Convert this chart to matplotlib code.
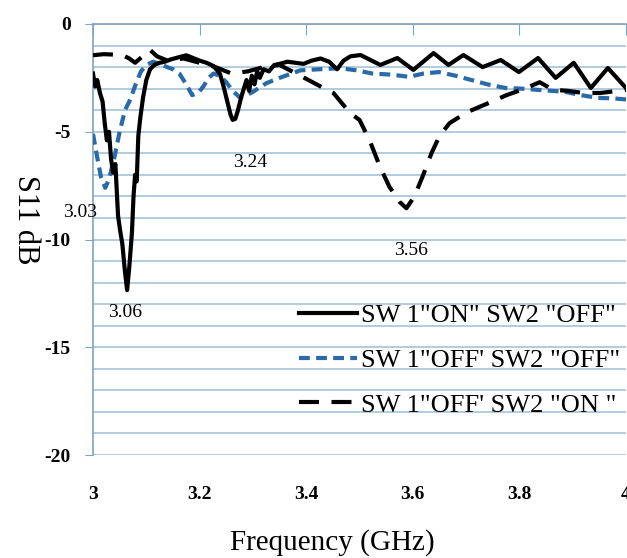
import matplotlib.pyplot as plt
import numpy as np

plt.rcParams['font.family'] = ['Liberation Serif', 'DejaVu Serif']
plt.rcParams['axes.unicode_minus'] = False

# SW1 "ON" SW2 "OFF" (trait plein)
f_on_off = [3.000, 3.004, 3.008, 3.013, 3.018, 3.022, 3.026, 3.030, 3.034, 3.038,
            3.042, 3.047, 3.051, 3.055, 3.060, 3.064, 3.068, 3.073, 3.076, 3.079,
            3.082, 3.085, 3.089, 3.094, 3.100, 3.107, 3.115, 3.125, 3.135, 3.145,
            3.160, 3.175, 3.190, 3.200, 3.213, 3.226, 3.238, 3.245, 3.252, 3.258,
            3.262, 3.267, 3.272, 3.278, 3.283, 3.288, 3.293, 3.298, 3.303, 3.308,
            3.313, 3.320, 3.330, 3.340, 3.350, 3.365, 3.380, 3.395, 3.410, 3.427,
            3.443, 3.458, 3.470, 3.483, 3.502, 3.539, 3.571, 3.601, 3.639, 3.667,
            3.695, 3.731, 3.765, 3.799, 3.835, 3.868, 3.902, 3.934, 3.966, 4.000]
s_on_off = [-2.3, -2.9, -2.6, -3.2, -3.6, -4.6, -5.4, -5.0, -6.3, -6.9,
            -6.5, -8.9, -9.6, -10.2, -11.5, -12.35, -11.3, -9.7, -8.0, -7.0,
            -7.3, -5.2, -4.3, -3.4, -2.6, -2.1, -1.9, -1.8, -1.75, -1.65,
            -1.55, -1.45, -1.6, -1.7, -1.8, -1.95, -2.3, -2.9, -3.6, -4.2,
            -4.45, -4.4, -4.0, -3.4, -3.0, -2.6, -3.1, -2.4, -2.8, -2.2,
            -2.5, -2.1, -2.2, -1.9, -1.85, -1.75, -1.8, -1.85, -1.7, -1.6,
            -1.75, -2.1, -1.7, -1.5, -1.44, -1.9, -1.58, -2.13, -1.35, -1.9,
            -1.44, -2.0, -1.67, -2.23, -1.58, -2.5, -1.8, -2.97, -2.04, -2.97]

# SW1 "OFF" SW2 "OFF" (tirets bleus)
f_off_off = [3.000, 3.008, 3.015, 3.023, 3.030, 3.040, 3.050, 3.060, 3.070, 3.080,
             3.090, 3.100, 3.113, 3.125, 3.137, 3.150, 3.162, 3.175, 3.186, 3.197,
             3.207, 3.217, 3.226, 3.238, 3.250, 3.262, 3.275, 3.288, 3.300, 3.312,
             3.325, 3.350, 3.389, 3.425, 3.462, 3.495, 3.524, 3.560, 3.593, 3.620,
             3.649, 3.680, 3.710, 3.740, 3.774, 3.805, 3.836, 3.860, 3.886, 3.915,
             3.948, 3.975, 4.000]
s_off_off = [-5.1, -6.2, -7.1, -7.6, -7.2, -6.2, -5.0, -4.0, -3.5, -2.8,
             -2.2, -1.9, -1.75, -1.85, -1.98, -2.1, -2.3, -2.8, -3.3, -3.2,
             -2.9, -2.5, -2.3, -2.4, -2.7, -3.1, -3.4, -3.3, -3.15, -2.95,
             -2.75, -2.5, -2.15, -2.1, -2.05, -2.15, -2.3, -2.35, -2.45, -2.3,
             -2.23, -2.4, -2.6, -2.8, -2.97, -3.0, -3.06, -3.1, -3.15, -3.3,
             -3.43, -3.45, -3.5]

# SW1 "OFF" SW2 "ON" (tirets longs noirs)
f_off_on = [3.000, 3.020, 3.040, 3.056, 3.068, 3.079, 3.093, 3.107, 3.120, 3.140,
            3.170, 3.200, 3.230, 3.260, 3.290, 3.320, 3.350, 3.389, 3.427, 3.451,
            3.483, 3.500, 3.519, 3.538, 3.556, 3.575, 3.588, 3.603, 3.618, 3.635,
            3.650, 3.669, 3.701, 3.739, 3.776, 3.810, 3.838, 3.863, 3.890, 3.920,
            3.952, 4.000]
s_off_on = [-1.45, -1.4, -1.42, -1.45, -1.6, -1.8, -1.5, -1.2, -1.5, -1.7,
            -1.6, -1.8, -2.0, -2.3, -2.2, -2.0, -1.9, -2.4, -2.9, -3.2,
            -4.15, -4.45, -5.4, -6.6, -7.55, -8.25, -8.55, -8.0, -7.1, -6.0,
            -5.2, -4.6, -4.1, -3.7, -3.3, -3.0, -2.7, -3.05, -3.1, -3.2,
            -3.2, -3.06]

legendes = ['SW 1"ON" SW2 "OFF"', 'SW 1"OFF\' SW2 "OFF"', 'SW 1"OFF\' SW2 "ON "']

# annotations des résonances : (texte, x, y)
annotations = [('3.03', 2.976, -8.77), ('3.06', 3.06, -13.4),
               ('3.24', 3.295, -6.45), ('3.56', 3.596, -10.5)]

fig = plt.figure(figsize=(6.27, 5.58), dpi=100)
ax = fig.add_axes([93 / 627, 1 - 455 / 558, 533 / 627, 431 / 558])

grille = '#9dbdd4'
axe = '#7fa3c0'
bleu = '#2a6aa8'

ax.plot(f_on_off, s_on_off, color='black', lw=3.0, label=legendes[0], zorder=4)
ax.plot(f_off_off, s_off_off, color=bleu, lw=3.0, dashes=(2.6, 1.5),
        label=legendes[1], zorder=3)
ax.plot(f_off_on, s_off_on, color='black', lw=3.0, dashes=(4.8, 3.0),
        label=legendes[2], zorder=3)

ax.set_xlim(3, 4)
ax.set_ylim(-20, 0)
ax.set_xticks(np.arange(3, 4.01, 0.2))
ax.set_xticklabels(['3', '3.2', '3.4', '3.6', '3.8', '4'])
ax.set_yticks(np.arange(-20, 1, 5))
ax.set_yticks(np.arange(-20, 1, 1), minor=True)

ax.grid(axis='y', which='both', color=grille, lw=1.1)
ax.set_axisbelow(True)

for side in ['right', 'bottom']:
    ax.spines[side].set_visible(False)
ax.spines['left'].set_color(axe)
ax.spines['top'].set_color(axe)
ax.spines['left'].set_linewidth(1.2)
ax.spines['top'].set_linewidth(1.2)

ax.tick_params(axis='x', top=True, bottom=False, labeltop=False, labelbottom=True,
               direction='in', length=8, color=axe, pad=22, labelsize=14)
ax.tick_params(axis='y', which='major', direction='out', length=6, color=axe,
               pad=10, labelsize=14)
ax.tick_params(axis='y', which='minor', length=0)
for lab in ax.get_xticklabels() + ax.get_yticklabels():
    lab.set_fontweight('bold')

for texte, x, y in annotations:
    ax.text(x, y, texte, fontsize=14, ha='center', va='center', clip_on=False)

fig.text(332 / 627, 1 - 543 / 558, 'Frequency (GHz)', fontsize=21,
         ha='center', va='center')
fig.text(25 / 627, 1 - 220 / 558, 'S11 dB', fontsize=22, rotation=270,
         ha='center', va='center')

leg = ax.legend(loc='upper left', bbox_to_anchor=(299 / 627, 1 - 304 / 558),
                bbox_transform=fig.transFigure, frameon=False, fontsize=19,
                handlelength=2.2, handletextpad=0.15, labelspacing=0.8,
                borderpad=0, borderaxespad=0)

plt.savefig('out.png', dpi=100)
